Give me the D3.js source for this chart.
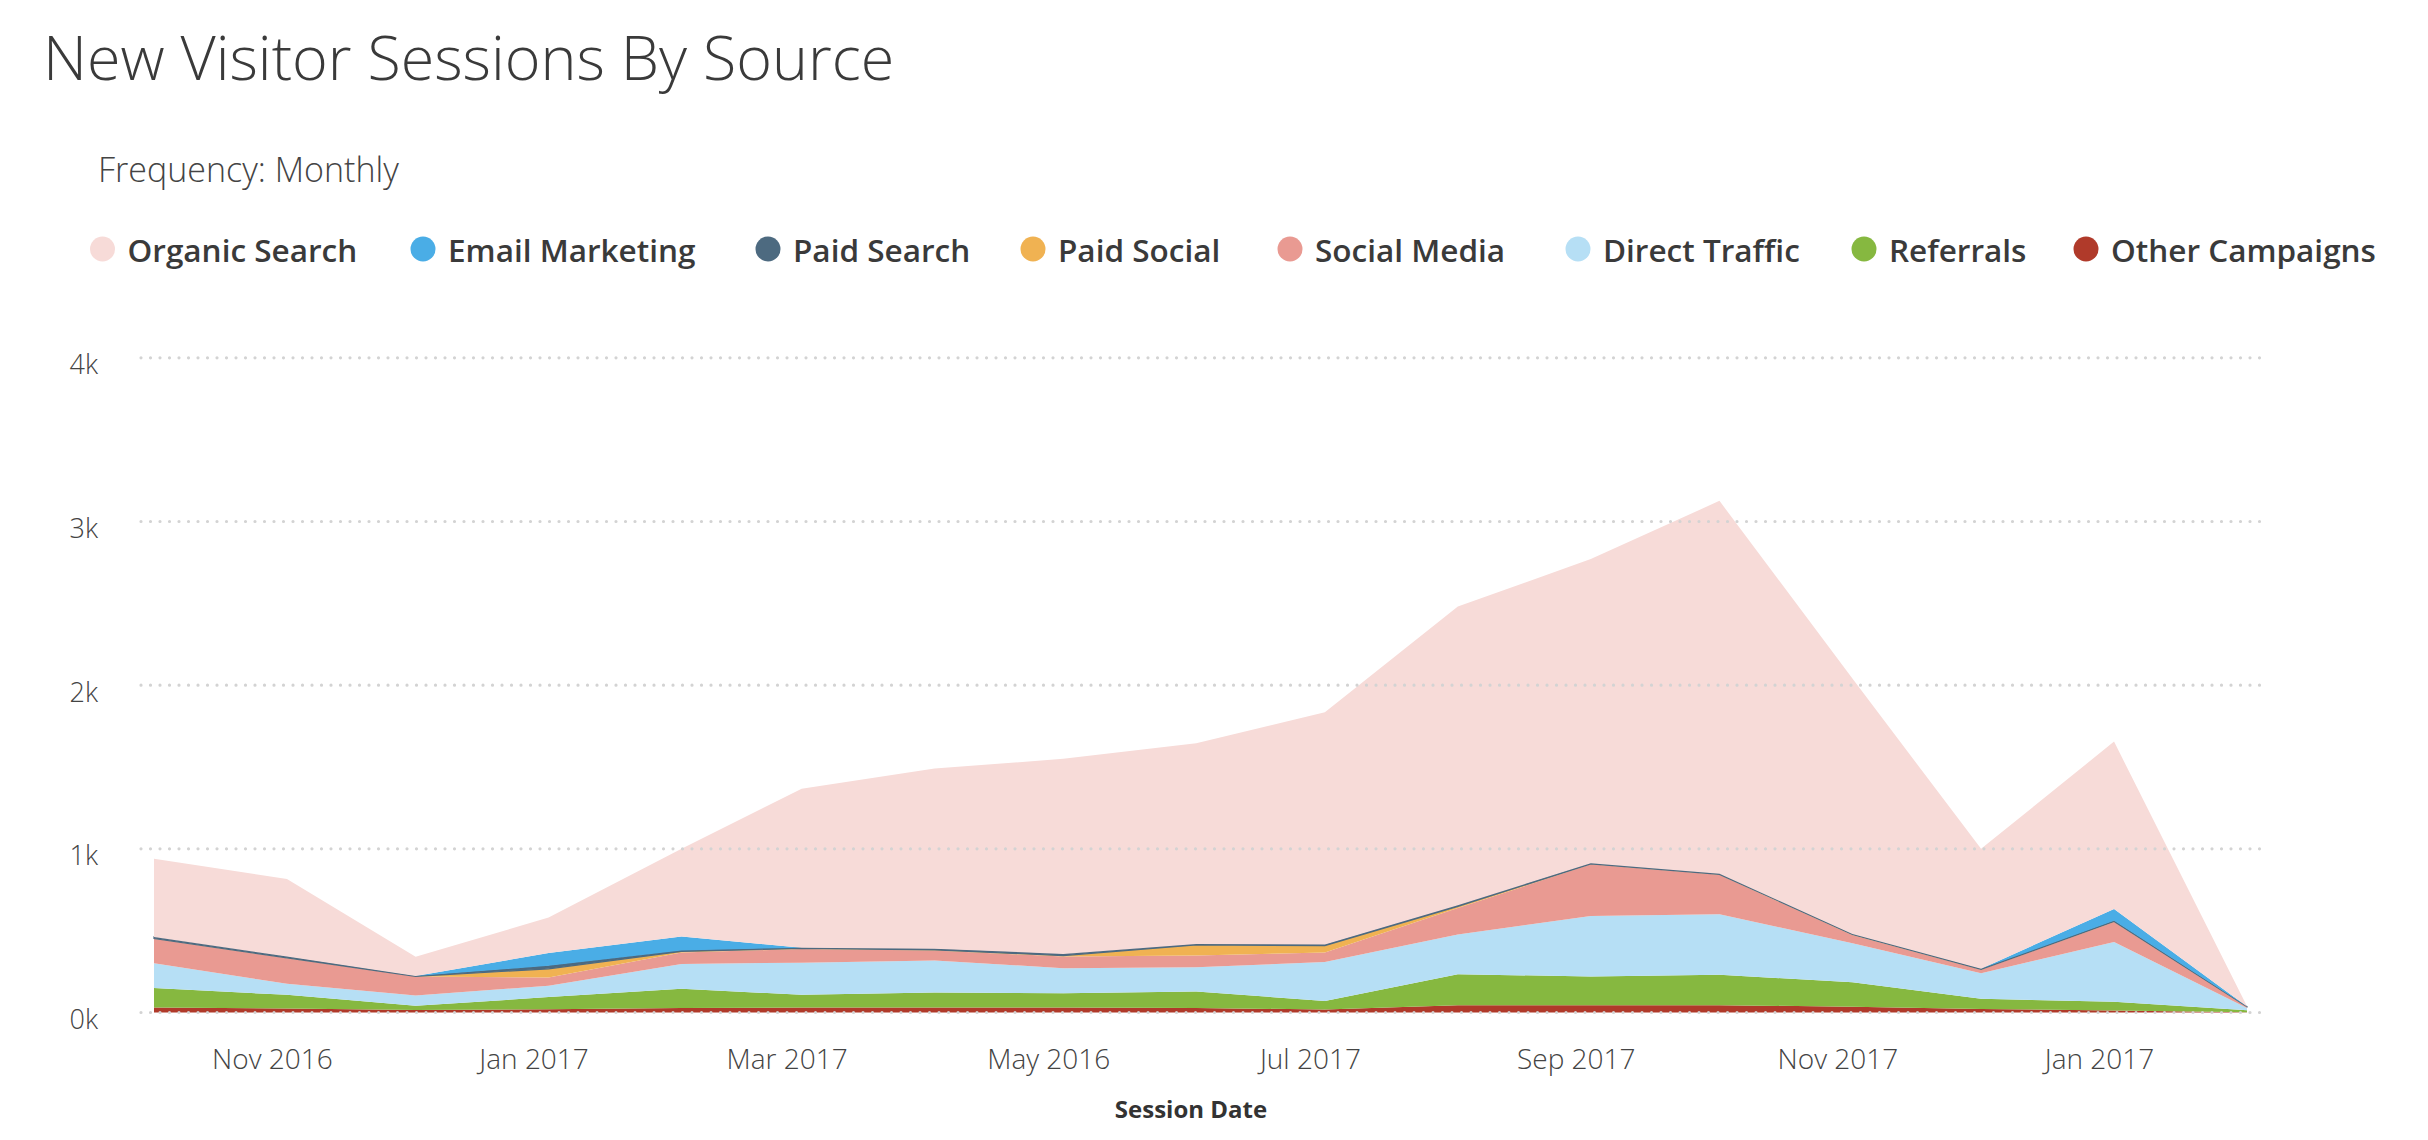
<!DOCTYPE html>
<html><head><meta charset="utf-8">
<script src="https://cdn.jsdelivr.net/npm/d3@7"></script>
<style>
html,body{margin:0;padding:0;background:#fff;}
text{font-family:"Open Sans",sans-serif;}
</style></head><body>
<svg id="chart" width="2428" height="1140"></svg>
<script>
// ---------- data ----------
const months = ["2016-10","2016-11","2016-12","2017-01","2017-02","2017-03","2017-04","2017-05",
  "2017-06","2017-07","2017-08","2017-09","2017-10","2017-11","2017-12","2018-01","2018-02"];
const tickMonths = ["2016-11","2017-01","2017-03","2017-05","2017-07","2017-09","2017-11","2018-01"];
const tickLabels = ["Nov 2016","Jan 2017","Mar 2017","May 2016","Jul 2017","Sep 2017","Nov 2017","Jan 2017"];
const yTicks = [0, 1000, 2000, 3000, 4000];

const seriesNames = ["Organic Search","Email Marketing","Paid Search","Paid Social","Social Media","Direct Traffic","Referrals","Other Campaigns"];
const seriesColors = ["#f7dbd8","#4aade6","#4d6a80","#f0b252","#e99a92","#b6dff5","#86b840","#b03a2a"];

const organicSearch  = [478, 473, 118, 217, 536, 971, 1101, 1192, 1226, 1420, 1824, 1858, 2278, 1560, 733, 1022, 2];
const emailMarketing = [0, 0, 0, 78, 85, 0, 0, 0, 0, 0, 0, 0, 0, 0, 0, 73, 0];
const paidSearch     = [10, 8, 2, 18, 6, 5, 6, 10, 6, 6, 8, 4, 4, 3, 3, 4, 1];
const paidSocial     = [2, 2, 1, 53, 7, 3, 4, 6, 65, 43, 10, 3, 3, 3, 3, 3, 1];
const socialMedia    = [149, 157, 116, 51, 69, 84, 61, 71, 71, 58, 161, 315, 240, 51, 21, 122, 6];
const directTraffic  = [152, 67, 63, 69, 152, 196, 196, 153, 149, 237, 243, 370, 371, 238, 156, 366, 15];
const referrals      = [119, 83, 26, 74, 117, 78, 92, 88, 100, 53, 189, 175, 185, 150, 62, 53, 11];
const otherCampaigns = [30, 25, 15, 20, 28, 30, 30, 30, 28, 18, 45, 45, 45, 35, 22, 12, 2];

const seriesValues = [organicSearch, emailMarketing, paidSearch, paidSocial, socialMedia, directTraffic, referrals, otherCampaigns];

// ---------- build table ----------
const parseMonth = d3.timeParse("%Y-%m");
const table = months.map((m, i) => {
  const row = {date: parseMonth(m)};
  seriesNames.forEach((s, k) => row[s] = seriesValues[k][i]);
  return row;
});
const stackOrder = seriesNames.slice().reverse(); // bottom -> top
const stacked = d3.stack().keys(stackOrder)(table);
const color = d3.scaleOrdinal().domain(seriesNames).range(seriesColors);

// ---------- layout ----------
const svg = d3.select("#chart");
const x = d3.scaleTime().domain([parseMonth(months[0]), parseMonth(months[months.length-1])]).range([154, 2247]);
const y = d3.scaleLinear().domain([0, 4000]).range([1012.5, 357.8]);

// title
svg.append("text").attr("x", 43).attr("y", 80)
  .attr("font-size", 61).attr("font-weight", 300).attr("fill", "#3a3a3a")
  .text("New Visitor Sessions By Source");
svg.append("text").attr("x", 98).attr("y", 182)
  .attr("font-size", 34).attr("font-weight", 300).attr("fill", "#444")
  .text("Frequency: Monthly");

// legend
const legendX = [102.5, 423, 768, 1033, 1290, 1578, 1864, 2086];
const lg = svg.append("g");
seriesNames.forEach((s, i) => {
  const g = lg.append("g").attr("transform", `translate(${legendX[i]},249)`);
  g.append("circle").attr("r", 12.5).attr("fill", color(s));
  g.append("text").attr("x", 25).attr("y", 12.5)
    .attr("font-size", 31.5).attr("font-weight", 600).attr("fill", "#3a3a3a").text(s);
});

// areas
const area = d3.area()
  .x(d => x(d.data.date))
  .y0(d => y(d[0]))
  .y1(d => y(d[1]));
svg.append("g").selectAll("path").data(stacked).join("path")
  .attr("d", area)
  .attr("fill", d => color(d.key))
  .attr("stroke", d => d.key === "Paid Search" ? color(d.key) : "none")
  .attr("stroke-width", 1.2);

// gridlines (dotted, drawn above areas)
const grid = svg.append("g");
grid.selectAll("line").data(yTicks).join("line")
  .attr("x1", 141).attr("x2", 2260)
  .attr("y1", d => y(d)).attr("y2", d => y(d))
  .attr("stroke", "#d3d3d3").attr("stroke-width", 3.2)
  .attr("stroke-linecap", "round").attr("stroke-dasharray", "0 9.5");

// y axis labels
const yAxis = d3.axisLeft(y).tickValues(yTicks).tickFormat(d => (d/1000) + "k").tickSize(0).tickPadding(0);
const yg = svg.append("g").attr("transform", "translate(98,0)").call(yAxis);
yg.select(".domain").remove();
yg.selectAll("text").attr("font-size", 27).attr("font-family", "Open Sans").attr("fill", "#444")
  .attr("dy", 16).attr("font-weight", 300);

// x axis labels
const xAxis = d3.axisBottom(x).tickValues(tickMonths.map(parseMonth))
  .tickFormat((d, i) => tickLabels[i]).tickSize(0).tickPadding(0);
const xg = svg.append("g").attr("transform", "translate(-15,1069)").call(xAxis);
xg.select(".domain").remove();
xg.selectAll("text").attr("font-size", 28).attr("font-family", "Open Sans").attr("fill", "#444")
  .attr("dy", 0).attr("y", 0).attr("font-weight", 300);

// x axis title
svg.append("text").attr("x", 1191).attr("y", 1118).attr("text-anchor", "middle")
  .attr("font-size", 24).attr("font-weight", 700).attr("fill", "#333").text("Session Date");
</script>
</body></html>
